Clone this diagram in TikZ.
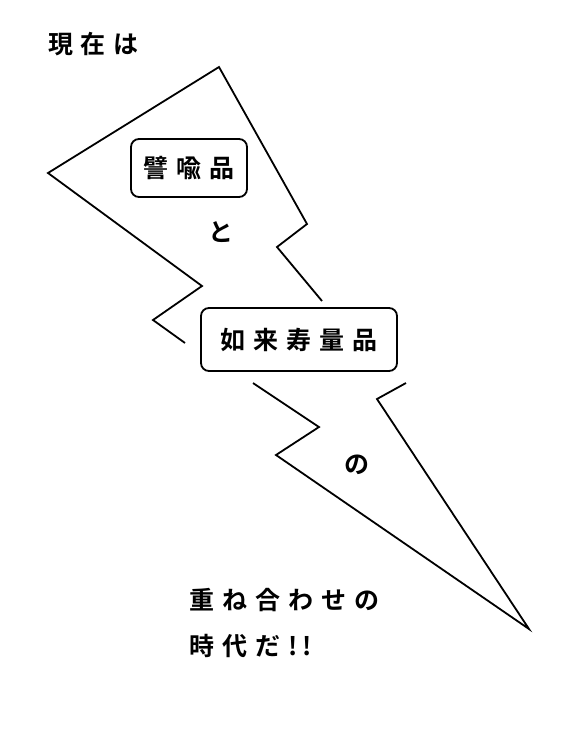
\documentclass[tikz,border=0pt]{standalone}
\usepackage{fontspec}
\newfontfamily\cjk{Noto Sans CJK JP}[BoldFont={Noto Sans CJK JP Bold}]
\newcommand{\gp}{\kern8pt}
\tikzset{
  bolt/.style={line width=1.8pt, line join=miter},
  tbox/.style={draw, line width=1.8pt, rounded corners=8pt, fill=white, inner sep=0pt},
  jtxt/.style={font=\cjk\bfseries\fontsize{25}{25}\selectfont, inner sep=0pt}
}
\begin{document}
\begin{tikzpicture}[x=1pt,y=-1pt]
\useasboundingbox (0,0) rectangle (566,732);
% lightning bolt (visible parts)
\draw[bolt] (185,343) -- (153,320) -- (202,286) -- (48,173) -- (219,67) -- (307,224) -- (277,247) -- (322,301);
\draw[bolt] (253,383) -- (319,427) -- (276,455) -- (529,629) -- (377,399) -- (406,383);
% boxes
\node[tbox, jtxt, minimum width=116pt, minimum height=58pt] (hiyu) at (189,168) {譬\gp 喩\gp 品};
\node[tbox, jtxt, minimum width=196pt, minimum height=63pt] (nyorai) at (299,339.5) {如\gp 来\gp 寿\gp 量\gp 品};
% texts
\node[jtxt] (genzai) at (93.5,44) {現\gp 在\gp は};
\node[jtxt] (to) at (221,232) {と};
\node[jtxt] (no) at (357,465) {の};
\node[jtxt, anchor=west] (kasane) at (189,600) {重\gp ね\gp 合\gp わ\gp せ\gp の};
\node[jtxt, anchor=west] (jidai) at (189,646) {時\gp 代\gp だ\gp !\kern5pt!};
\end{tikzpicture}
\end{document}
